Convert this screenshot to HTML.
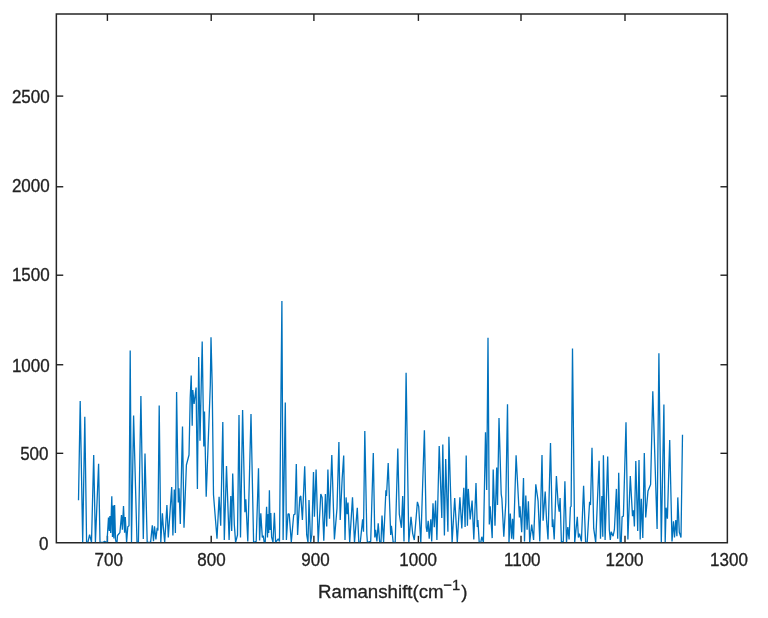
<!DOCTYPE html>
<html><head><meta charset="utf-8"><title>Raman</title>
<style>
html,body{margin:0;padding:0;background:#fff;}
body{width:768px;height:618px;overflow:hidden;font-family:"Liberation Sans",sans-serif;}
svg{display:block}
text{font-family:"Liberation Sans",sans-serif;fill:#222;stroke:#222;stroke-width:0.3px;}
.txt{filter:grayscale(1)}
.tk{font-size:17.0px;}
.lb{font-size:18.7px;}
</style></head><body>
<svg width="768" height="618" viewBox="0 0 768 618">
<defs><clipPath id="ax"><rect x="56.35" y="14.0" width="671.0" height="528.2"/></clipPath></defs>
<rect x="0" y="0" width="768" height="618" fill="#ffffff"/>
<rect x="56.35" y="14.0" width="671.0" height="528.75" stroke="#262626" stroke-width="1.5" fill="none"/>
<g stroke="#202020" stroke-width="1.4" fill="none">
<line x1="107.40" y1="542.75" x2="107.40" y2="535.85"/><line x1="107.40" y1="14.0" x2="107.40" y2="20.9"/><line x1="211.20" y1="542.75" x2="211.20" y2="535.85"/><line x1="211.20" y1="14.0" x2="211.20" y2="20.9"/><line x1="313.90" y1="542.75" x2="313.90" y2="535.85"/><line x1="313.90" y1="14.0" x2="313.90" y2="20.9"/><line x1="418.40" y1="542.75" x2="418.40" y2="535.85"/><line x1="418.40" y1="14.0" x2="418.40" y2="20.9"/><line x1="521.00" y1="542.75" x2="521.00" y2="535.85"/><line x1="521.00" y1="14.0" x2="521.00" y2="20.9"/><line x1="625.00" y1="542.75" x2="625.00" y2="535.85"/><line x1="625.00" y1="14.0" x2="625.00" y2="20.9"/><line x1="56.35" y1="453.33" x2="63.25" y2="453.33"/><line x1="727.35" y1="453.33" x2="720.45" y2="453.33"/><line x1="56.35" y1="364.75" x2="63.25" y2="364.75"/><line x1="727.35" y1="364.75" x2="720.45" y2="364.75"/><line x1="56.35" y1="275.20" x2="63.25" y2="275.20"/><line x1="727.35" y1="275.20" x2="720.45" y2="275.20"/><line x1="56.35" y1="186.77" x2="63.25" y2="186.77"/><line x1="727.35" y1="186.77" x2="720.45" y2="186.77"/><line x1="56.35" y1="96.10" x2="63.25" y2="96.10"/><line x1="727.35" y1="96.10" x2="720.45" y2="96.10"/>
</g>
<polyline clip-path="url(#ax)" fill="none" stroke="#0072BD" stroke-width="1.3" stroke-linejoin="bevel" points="78.5,500.2 80.2,401 82.7,542.4 84.8,416.7 86.6,542.4 87.9,542.4 89.6,534.7 91.5,542.4 93.7,455 95.4,542.4 98.6,463.7 100,542.4 103.2,542.4 104.5,541.2 106.5,542.4 107.4,542.6 107.4,535.6 108.5,517.5 109.3,531 109.9,516 110.7,533 111.8,496.2 112.5,537 113.3,505.5 113.9,538.5 114.6,505 115.5,539.5 116.2,542.4 117,542.4 117.5,535.5 119.9,532.6 121.5,515 122.4,529.7 123.5,506 124.6,532.6 125.3,517 126.6,542.4 127.8,526.7 129,525.8 130.2,350.4 131.5,542.4 133.6,415.5 137,542.4 138.4,542.4 140.9,396 143.3,538.9 145,453.5 147.2,542.4 150.6,542.4 152.3,525.3 153.5,541.3 154.5,526.3 155.9,539.4 157.2,527.7 157.9,530.6 159.2,405.4 160.8,542.4 162.4,513.2 163.2,525.8 164.7,542.4 166.9,505 168.3,537.4 171.7,487 172.9,535.5 174.3,489.6 175.4,533 176.6,392.1 178.3,502.5 179,488.3 180.3,523.9 182.5,426.4 184,527.8 186.4,465 189,455 190.2,398 191.2,375.6 192.2,425.8 192.8,390 194.1,404 196.1,387.5 197.4,489 198.7,356.9 200,440.7 202.2,341.5 203.8,446.5 204.5,411.5 206.2,496.7 210.3,385 211,337.2 212.2,385 213.5,494.8 217,538.8 219.1,496.7 220.7,525.8 222.8,421.9 224.3,540 226.5,466 229.1,540 230.8,496 231.7,531 232.7,473.4 234.3,524.5 235.6,542.4 237.5,535 239,415 240.5,537.5 242.6,410 244.9,512.2 245.8,499.3 247.8,541.4 251,414.1 253.6,542.4 256.2,541.4 258.5,468.2 259.6,540.5 260.8,513.2 262.3,537.4 263.2,535.5 264.2,542.3 265.2,542.4 266.6,506.8 267.5,537.4 268.2,514 268.7,533 269.4,490.3 270.1,530 270.8,513 271.6,537 273,542.4 274.4,512.7 275.6,542.4 278.2,538.8 279.5,541.4 281.9,301 283.1,540 285.3,402.5 286.4,540 288,514 289.2,514 291.3,542.4 293.7,514.8 295,514.2 296.3,464 297.6,534.9 299.8,497.4 300.8,496 302.4,520 304.7,466.3 306.7,534.9 308,542.4 309,500 310.6,542.4 311.8,535 313.5,472.1 314.4,516.8 316.1,469.5 318.2,542.4 320.8,494.1 322.1,497.4 323.8,540.7 325.4,494.1 326.7,526.5 327.9,469.5 329.5,518.7 331.8,454.9 334.4,539.4 337,508.4 338.9,442 340.2,520 342.2,478 343.7,455.6 345,540 346.1,497.4 347.1,514.2 348,502.5 349.7,542.4 352.5,497.4 354.5,542.4 357.3,507.7 358.8,542.4 360.3,542.4 362.6,519.4 363.5,531.7 364.8,431 366.8,533.6 367.4,542.4 370.7,541.4 373.3,453 374.8,537.5 375.6,529.7 376.9,541.4 378.2,523.3 379.7,542.4 381,542.4 382,515.5 383.6,542.4 385.9,490.2 386.5,496 388.2,463 390.7,534.9 391.4,525.8 393.2,542.4 395.2,542.4 397.8,448.4 399.3,514.2 401.4,527.8 402.7,496 404,541.4 406.1,372.8 408.8,542.4 411,516.8 412.7,533.6 414.3,540 417.4,501.9 418.7,506.4 420.8,542.4 424.4,430.3 426.2,527.1 427,532 428.2,520.7 429.2,538.8 430.8,519.4 431.7,541.4 433,503.2 434.3,527.1 435.6,500.6 436.9,540 439.2,446.1 441.8,518.1 442.8,444.5 444.4,535.5 445.7,459 447.9,531.7 448.9,436.8 452.1,542.4 454.7,498 457.3,542.4 459.9,497.4 461.8,528.4 463.8,487.7 465.1,527.1 466.2,455.6 467.4,525.8 468.3,488.9 470.2,519.4 472.1,500.6 473.8,539.4 476,483.1 477.3,527.1 477.9,520 479.2,542.4 480.8,542.4 481.8,536.8 483.4,542.4 485.5,432.2 486.7,490 488,337.8 489.3,524.5 490.2,506.4 492.2,538.1 493.2,469.5 495,525.8 496.7,467.6 497.5,505 499,418 501.2,494.1 501.9,498.7 503.8,536.8 505.8,502.5 507.5,404.2 509,542.4 510.3,513.5 511.6,538.8 512.6,518.7 513.5,539.4 516.1,455.3 519.4,517.4 520,506.4 521.7,532.3 523.5,477.9 524.5,541.4 525.8,495.4 527.1,529.7 528.4,501.2 529.7,542.4 531.7,524.5 533.6,540 535.8,484.4 538.1,501.2 539.8,541.4 542,454.9 543.1,520.7 545.2,491.5 546.5,519.4 548,539.4 550.5,442.9 552.3,527.1 552.9,519.4 554.2,539.4 556.4,476 558.1,503.8 559.2,511.6 560.1,498 561.4,542.4 563.3,541.4 564.9,481.2 566.5,542.4 567.8,527.1 569.1,539.4 570.4,507.1 571.1,506.4 572.5,348.5 574.7,542.4 577.3,516.8 578.4,537.5 579.5,533.6 581.4,541.4 583.6,485.7 585.6,542.4 587.2,542.4 589.6,501.9 590.5,505.1 592,447.8 593.7,528.4 595.7,542.4 599.1,460.7 600.5,538.8 601.9,496.1 602.8,536.8 603.4,455.3 605.1,540 607.7,456.5 609.3,529.7 610.3,540 611.2,531.7 613.1,536.2 614.4,529.7 616.4,488.9 617.7,538.8 618.7,472.8 620.2,542.4 621.2,542.4 622.1,516.8 623.4,516.1 626,422.2 627.9,539.4 630.3,476 632.5,516.1 633.5,510.3 634.4,526.5 635.8,461 637.7,531 639,460.1 640.2,539.4 641.3,498.7 642.8,538.1 644.3,453 645.7,517.4 648,490.9 650.6,484.4 652.8,391.2 657.1,529.1 658.9,353.2 661.3,542.4 663.9,404.4 665.2,542.4 666.1,507.7 667.4,518.7 669.7,440 672,541.4 673.5,521.3 674.5,537.5 675.8,520 676.9,536.2 677.8,497.4 679.3,532.3 681,537.5 682.5,434.8"/>
<g class="txt"><g class="tk"><text transform="translate(108.77,566.3) scale(1,1.035)" text-anchor="middle">700</text><text transform="translate(211.40,566.3) scale(1,1.035)" text-anchor="middle">800</text><text transform="translate(315.43,566.3) scale(1,1.035)" text-anchor="middle">900</text><text transform="translate(418.16,566.3) scale(1,1.035)" text-anchor="middle">1000</text><text transform="translate(522.29,566.3) scale(1,1.035)" text-anchor="middle">1100</text><text transform="translate(624.42,566.3) scale(1,1.035)" text-anchor="middle">1200</text><text transform="translate(728.95,566.3) scale(1,1.035)" text-anchor="middle">1300</text><text transform="translate(48.5,549.5) scale(1,1.035)" text-anchor="end">0</text><text transform="translate(48.5,460.2) scale(1,1.035)" text-anchor="end">500</text><text transform="translate(49.7,371.7) scale(1,1.035)" text-anchor="end">1000</text><text transform="translate(49.7,281.2) scale(1,1.035)" text-anchor="end">1500</text><text transform="translate(49.7,191.9) scale(1,1.035)" text-anchor="end">2000</text><text transform="translate(49.7,103.1) scale(1,1.035)" text-anchor="end">2500</text></g><text class="lb" x="318.0" y="598">Ramanshift(cm<tspan dy="-8" dx="-0.4" font-size="14.8">−1</tspan><tspan dy="8" dx="1.0">)</tspan></text></g>
</svg>
</body></html>
